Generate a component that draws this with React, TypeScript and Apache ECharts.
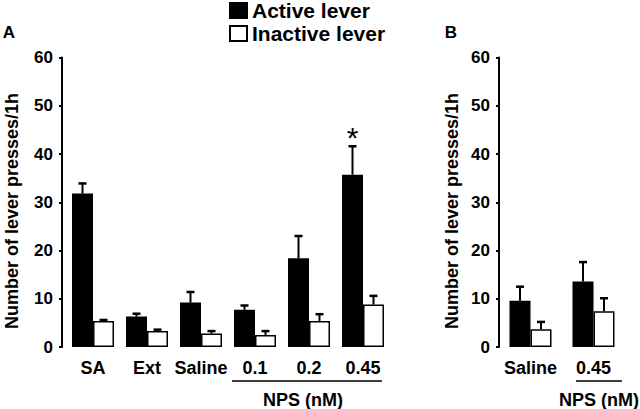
import React, { useEffect, useRef } from "react";
import * as echarts from "echarts";

const FONT = "'Liberation Sans', Arial, Helvetica, sans-serif";

// Panel A
const categoriesA = ["SA", "Ext", "Saline", "0.1", "0.2", "0.45"];
const activeA = [31.8, 6.3, 9.2, 7.7, 18.4, 35.7];
const activeSemA = [2.1, 0.6, 2.2, 0.9, 4.6, 5.9];
const inactiveA = [5.4, 3.3, 2.8, 2.5, 5.4, 8.8];
const inactiveSemA = [0.2, 0.3, 0.5, 0.8, 1.4, 1.8];
const sigA = ["", "", "", "", "", "*"];

// Panel B
const categoriesB = ["Saline", "0.45"];
const activeB = [9.6, 13.6];
const activeSemB = [2.9, 4.0];
const inactiveB = [3.7, 7.4];
const inactiveSemB = [1.5, 2.7];
const sigB = ["", ""];

const yTicks = { min: 0, max: 60, interval: 10 };
const yName = "Number of lever presses/1h";
const groupLabel = "NPS (nM)";

const BAR_W = 21;

function errData(means: number[], sems: number[], sig: string[]) {
  return means.map((m, i) => [i, m, sems[i], sig[i]]);
}

function makeErrSeries(
  name: string,
  xAxisIndex: number,
  data: any[],
  offset: number
) {
  return {
    type: "custom",
    name: name + " SEM",
    xAxisIndex,
    yAxisIndex: xAxisIndex,
    z: 5,
    silent: true,
    data,
    renderItem: (params: any, api: any) => {
      const cat = api.value(0);
      const mean = api.value(1);
      const sem = api.value(2);
      const sig = data[params.dataIndex][3];
      const base = api.coord([cat, mean]);
      const top = api.coord([cat, mean + sem]);
      const x = base[0] + offset;
      const children: any[] = [
        {
          type: "line",
          shape: { x1: x, y1: base[1], x2: x, y2: top[1] },
          style: { stroke: "#000", lineWidth: 2 },
        },
        {
          type: "line",
          shape: { x1: x - 4, y1: top[1], x2: x + 4, y2: top[1] },
          style: { stroke: "#000", lineWidth: 2.5 },
        },
      ];
      if (sig) {
        children.push({
          type: "text",
          style: {
            x: x,
            y: top[1] + 6,
            text: sig,
            align: "center",
            verticalAlign: "bottom",
            font: `normal 30px ${FONT}`,
            fill: "#000",
          },
        });
      }
      return { type: "group", children };
    },
  };
}

export default function App() {
  const ref = useRef<HTMLDivElement>(null);

  useEffect(() => {
    if (!ref.current) return;
    const chart = echarts.init(ref.current, null, { renderer: "svg" });

    const yAxisBase = {
      type: "value",
      min: yTicks.min,
      max: yTicks.max,
      interval: yTicks.interval,
      splitLine: { show: false },
      axisLine: { show: true, lineStyle: { color: "#000", width: 2 } },
      axisTick: { show: true, length: 3, lineStyle: { color: "#000", width: 2 } },
      axisLabel: {
        color: "#000",
        fontSize: 17,
        fontWeight: "bold",
        fontFamily: FONT,
        margin: 9,
      },
    };
    const xAxisBase = {
      type: "category",
      axisLine: { show: false },
      axisTick: { show: false },
      axisLabel: {
        color: "#000",
        fontSize: 18,
        fontWeight: "bold",
        fontFamily: FONT,
        margin: 12,
        interval: 0,
      },
    };

    const barStyleActive = { color: "#000", borderColor: "#000", borderWidth: 1.5 };
    const barStyleInactive = { color: "#fff", borderColor: "#000", borderWidth: 1.5 };

    const textStyle = (size: number) => ({
      font: `bold ${size}px ${FONT}`,
      fill: "#000",
      align: "center",
      verticalAlign: "middle",
    });

    chart.setOption({
      animation: false,
      textStyle: { fontFamily: FONT },
      legend: {
        orient: "vertical",
        left: 229,
        top: 0,
        padding: 0,
        itemWidth: 17,
        itemHeight: 15,
        itemGap: 2,
        selectedMode: false,
        textStyle: { fontSize: 21, fontWeight: "bold", color: "#000", fontFamily: FONT },
        data: [
          { name: "Active lever", icon: "rect" },
          { name: "Inactive lever", icon: "rect" },
        ],
      },
      grid: [
        { left: 66, width: 324, top: 57.5, bottom: 62 },
        { left: 499, width: 126, top: 57.5, bottom: 62 },
      ],
      xAxis: [
        { ...xAxisBase, gridIndex: 0, data: categoriesA },
        { ...xAxisBase, gridIndex: 1, data: categoriesB },
      ],
      yAxis: [
        { ...yAxisBase, gridIndex: 0, offset: 4 },
        { ...yAxisBase, gridIndex: 1, offset: 0 },
      ],
      series: [
        {
          type: "bar",
          name: "Active lever",
          xAxisIndex: 0,
          yAxisIndex: 0,
          barWidth: BAR_W,
          barGap: "0%",
          itemStyle: barStyleActive,
          data: activeA,
        },
        {
          type: "bar",
          name: "Inactive lever",
          xAxisIndex: 0,
          yAxisIndex: 0,
          barWidth: BAR_W,
          barGap: "0%",
          itemStyle: barStyleInactive,
          data: inactiveA,
        },
        {
          type: "bar",
          name: "Active lever",
          xAxisIndex: 1,
          yAxisIndex: 1,
          barWidth: BAR_W,
          barGap: "0%",
          itemStyle: barStyleActive,
          data: activeB,
        },
        {
          type: "bar",
          name: "Inactive lever",
          xAxisIndex: 1,
          yAxisIndex: 1,
          barWidth: BAR_W,
          barGap: "0%",
          itemStyle: barStyleInactive,
          data: inactiveB,
        },
        makeErrSeries("Active A", 0, errData(activeA, activeSemA, sigA), -BAR_W / 2),
        makeErrSeries("Inactive A", 0, errData(inactiveA, inactiveSemA, sigA.map(() => "")), BAR_W / 2),
        makeErrSeries("Active B", 1, errData(activeB, activeSemB, sigB), -BAR_W / 2),
        makeErrSeries("Inactive B", 1, errData(inactiveB, inactiveSemB, sigB), BAR_W / 2),
      ],
      graphic: [
        { type: "text", x: 9, y: 32, style: { ...textStyle(17), text: "A" } },
        { type: "text", x: 451, y: 32, style: { ...textStyle(17), text: "B" } },
        {
          type: "text",
          x: 12,
          y: 211,
          rotation: Math.PI / 2,
          style: { ...textStyle(18), text: yName },
        },
        {
          type: "text",
          x: 452,
          y: 211,
          rotation: Math.PI / 2,
          style: { ...textStyle(18), text: yName },
        },
        {
          type: "line",
          shape: { x1: 232, y1: 381, x2: 382, y2: 381 },
          style: { stroke: "#000", lineWidth: 1.5 },
        },
        {
          type: "line",
          shape: { x1: 576, y1: 381, x2: 622, y2: 381 },
          style: { stroke: "#000", lineWidth: 1.5 },
        },
        { type: "text", x: 303, y: 400, style: { ...textStyle(18), text: groupLabel } },
        { type: "text", x: 599, y: 400, style: { ...textStyle(18), text: groupLabel } },
      ],
    });

    return () => chart.dispose();
  }, []);

  return (
    <div
      ref={ref}
      style={{ position: "absolute", left: 0, top: 0, width: 640, height: 409, background: "#fff" }}
    />
  );
}
